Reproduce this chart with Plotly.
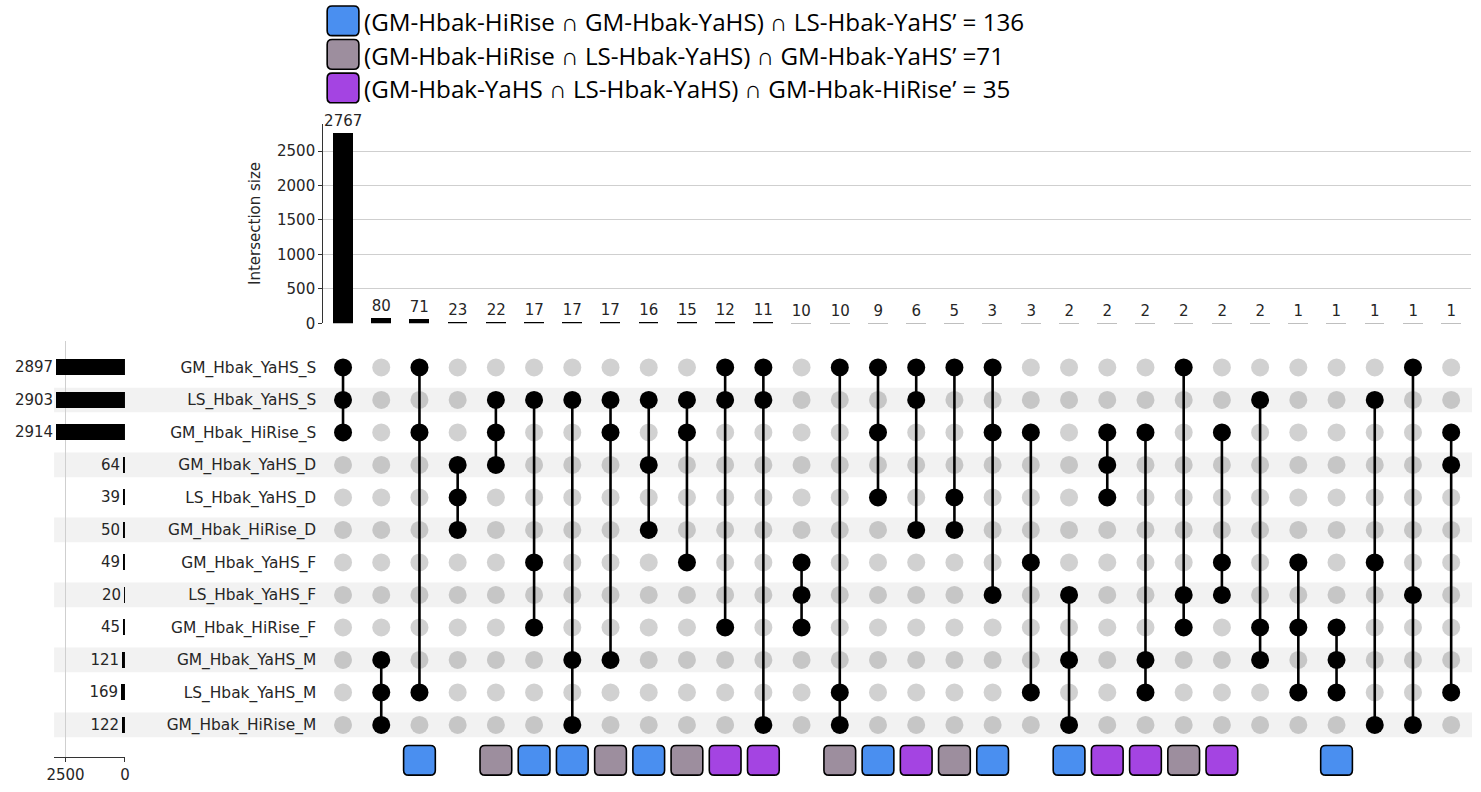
import plotly.graph_objects as go

# ---------------- data ----------------
set_names = ["GM_Hbak_YaHS_S", "LS_Hbak_YaHS_S", "GM_Hbak_HiRise_S",
             "GM_Hbak_YaHS_D", "LS_Hbak_YaHS_D", "GM_Hbak_HiRise_D",
             "GM_Hbak_YaHS_F", "LS_Hbak_YaHS_F", "GM_Hbak_HiRise_F",
             "GM_Hbak_YaHS_M", "LS_Hbak_YaHS_M", "GM_Hbak_HiRise_M"]
set_sizes = [2897, 2903, 2914, 64, 39, 50, 49, 20, 45, 121, 169, 122]

intersection_sizes = [2767, 80, 71, 23, 22, 17, 17, 17, 16, 15, 12, 11, 10, 10, 9,
                      6, 5, 3, 3, 2, 2, 2, 2, 2, 2, 1, 1, 1, 1, 1]
intersection_members = [
    ["GM_Hbak_YaHS_S", "LS_Hbak_YaHS_S", "GM_Hbak_HiRise_S"],
    ["GM_Hbak_YaHS_M", "LS_Hbak_YaHS_M", "GM_Hbak_HiRise_M"],
    ["GM_Hbak_YaHS_S", "GM_Hbak_HiRise_S", "LS_Hbak_YaHS_M"],
    ["GM_Hbak_YaHS_D", "LS_Hbak_YaHS_D", "GM_Hbak_HiRise_D"],
    ["LS_Hbak_YaHS_S", "GM_Hbak_HiRise_S", "GM_Hbak_YaHS_D"],
    ["LS_Hbak_YaHS_S", "GM_Hbak_YaHS_F", "GM_Hbak_HiRise_F"],
    ["LS_Hbak_YaHS_S", "GM_Hbak_YaHS_M", "GM_Hbak_HiRise_M"],
    ["LS_Hbak_YaHS_S", "GM_Hbak_HiRise_S", "GM_Hbak_YaHS_M"],
    ["LS_Hbak_YaHS_S", "GM_Hbak_YaHS_D", "GM_Hbak_HiRise_D"],
    ["LS_Hbak_YaHS_S", "GM_Hbak_HiRise_S", "GM_Hbak_YaHS_F"],
    ["GM_Hbak_YaHS_S", "LS_Hbak_YaHS_S", "GM_Hbak_HiRise_F"],
    ["GM_Hbak_YaHS_S", "LS_Hbak_YaHS_S", "GM_Hbak_HiRise_M"],
    ["GM_Hbak_YaHS_F", "LS_Hbak_YaHS_F", "GM_Hbak_HiRise_F"],
    ["GM_Hbak_YaHS_S", "LS_Hbak_YaHS_M", "GM_Hbak_HiRise_M"],
    ["GM_Hbak_YaHS_S", "GM_Hbak_HiRise_S", "LS_Hbak_YaHS_D"],
    ["GM_Hbak_YaHS_S", "LS_Hbak_YaHS_S", "GM_Hbak_HiRise_D"],
    ["GM_Hbak_YaHS_S", "LS_Hbak_YaHS_D", "GM_Hbak_HiRise_D"],
    ["GM_Hbak_YaHS_S", "GM_Hbak_HiRise_S", "LS_Hbak_YaHS_F"],
    ["GM_Hbak_HiRise_S", "GM_Hbak_YaHS_F", "LS_Hbak_YaHS_M"],
    ["LS_Hbak_YaHS_F", "GM_Hbak_YaHS_M", "GM_Hbak_HiRise_M"],
    ["GM_Hbak_HiRise_S", "GM_Hbak_YaHS_D", "LS_Hbak_YaHS_D"],
    ["GM_Hbak_HiRise_S", "GM_Hbak_YaHS_M", "LS_Hbak_YaHS_M"],
    ["GM_Hbak_YaHS_S", "LS_Hbak_YaHS_F", "GM_Hbak_HiRise_F"],
    ["GM_Hbak_HiRise_S", "GM_Hbak_YaHS_F", "LS_Hbak_YaHS_F"],
    ["LS_Hbak_YaHS_S", "GM_Hbak_HiRise_F", "GM_Hbak_YaHS_M"],
    ["GM_Hbak_YaHS_F", "GM_Hbak_HiRise_F", "LS_Hbak_YaHS_M"],
    ["GM_Hbak_HiRise_F", "GM_Hbak_YaHS_M", "LS_Hbak_YaHS_M"],
    ["LS_Hbak_YaHS_S", "GM_Hbak_YaHS_F", "GM_Hbak_HiRise_M"],
    ["GM_Hbak_YaHS_S", "LS_Hbak_YaHS_F", "GM_Hbak_HiRise_M"],
    ["GM_Hbak_HiRise_S", "GM_Hbak_YaHS_D", "LS_Hbak_YaHS_M"],
]
# highlight category of each intersection column (None = not highlighted)
intersection_category = [None, None, "A", None, "B", "A", "A", "B", "A", "B",
                         "C", "C", None, "B", "A", "C", "B", "A", None, "A",
                         "C", "C", "B", "C", None, None, "A", None, None, None]

category_labels = {
    "A": "(GM-Hbak-HiRise ∩ GM-Hbak-YaHS) ∩ LS-Hbak-YaHS’ = 136",
    "B": "(GM-Hbak-HiRise ∩ LS-Hbak-YaHS) ∩ GM-Hbak-YaHS’ =71",
    "C": "(GM-Hbak-YaHS ∩ LS-Hbak-YaHS) ∩ GM-Hbak-HiRise’ = 35",
}

# ---------------- styles / layout geometry (pixels) ----------------
W, H = 1481, 792
COL0, COLW = 338.0, 38.55      # pixel of first column, column spacing
ROW0, ROWH = 371.7, 32.87      # pixel of first row, row spacing
cat_colors = {"A": "#4a8ff0", "B": "#9d8e9e", "C": "#a444e2"}
FONT = "DejaVu Sans"
TXT = "#262626"


def fx(px):
    return px / W


def fy(py):
    return 1 - py / H


def xrange_for(p0, p1):
    return [(p0 - COL0) / COLW, (p1 - COL0) / COLW]


def yrange_for(ptop, pbot):
    return [(pbot - ROW0) / ROWH, (ptop - ROW0) / ROWH]  # reversed


n_cols = len(intersection_sizes)
n_rows = len(set_names)
cols = list(range(n_cols))
rows = list(range(n_rows))
row_of = {s: i for i, s in enumerate(set_names)}

fig = go.Figure()

# intersection size bars
fig.add_trace(go.Bar(
    x=cols, y=intersection_sizes, xaxis="x", yaxis="y",
    marker=dict(color="black", line=dict(width=0)), width=0.52,
    text=[str(v) for v in intersection_sizes], textposition="outside",
    constraintext="none", textangle=0,
    textfont=dict(family=FONT, size=15, color=TXT), cliponaxis=False,
    showlegend=False, hoverinfo="skip"))

# set size bars
fig.add_trace(go.Bar(
    x=set_sizes, y=rows, orientation="h", xaxis="x3", yaxis="y3",
    marker=dict(color="black", line=dict(width=0)), width=0.487,
    text=[str(v) for v in set_sizes], textposition="outside",
    constraintext="none", textangle=0,
    textfont=dict(family=FONT, size=15, color=TXT), cliponaxis=False,
    showlegend=False, hoverinfo="skip"))

# matrix: inactive dots, connecting lines, active dots
ix, iy, ax_, ay_ = [], [], [], []
lx, ly = [], []
for c, members in enumerate(intersection_members):
    active = sorted(row_of[m] for m in members)
    for r in rows:
        if r in active:
            ax_.append(c)
            ay_.append(r)
        else:
            ix.append(c)
            iy.append(r)
    lx += [c, c, None]
    ly += [active[0], active[-1], None]

fig.add_trace(go.Scatter(x=ix, y=iy, mode="markers", xaxis="x2", yaxis="y2",
                         marker=dict(size=18, color="rgba(0,0,0,0.18)"),
                         showlegend=False, hoverinfo="skip"))
fig.add_trace(go.Scatter(x=lx, y=ly, mode="lines", xaxis="x2", yaxis="y2",
                         line=dict(color="black", width=2.6),
                         showlegend=False, hoverinfo="skip"))
fig.add_trace(go.Scatter(x=ax_, y=ay_, mode="markers", xaxis="x2", yaxis="y2",
                         marker=dict(size=18, color="black"),
                         showlegend=False, hoverinfo="skip"))

shapes = []
# alternating row shading
for r in rows:
    if r % 2 == 1:
        shapes.append(dict(type="rect", xref="paper", yref="y2",
                           x0=fx(46.5), x1=fx(1477), y0=r - 0.38, y1=r + 0.38,
                           fillcolor="#f2f2f2", line=dict(width=0), layer="below"))


def rounded_path(xc, yc, w, h, rx, ry):
    x0, x1 = xc - w / 2, xc + w / 2
    y0, y1 = yc - h / 2, yc + h / 2
    return (f"M {x0+rx},{y0} L {x1-rx},{y0} Q {x1},{y0} {x1},{y0+ry} "
            f"L {x1},{y1-ry} Q {x1},{y1} {x1-rx},{y1} L {x0+rx},{y1} "
            f"Q {x0},{y1} {x0},{y1-ry} L {x0},{y0+ry} Q {x0},{y0} {x0+rx},{y0} Z")


# highlighted squares under the matrix
sq_y = (769 - ROW0) / ROWH
for c, cat in enumerate(intersection_category):
    if cat is None:
        continue
    shapes.append(dict(type="path", xref="x2", yref="y2",
                       path=rounded_path(c, sq_y, 32 / COLW, 30 / ROWH, 5 / COLW, 5 / ROWH),
                       fillcolor=cat_colors[cat], line=dict(color="black", width=1.6),
                       layer="above"))

# top legend
annotations = []
for k, cat in enumerate(["A", "B", "C"]):
    cy = 21 + 34 * k
    shapes.append(dict(type="path", xref="paper", yref="paper",
                       path=rounded_path(fx(338), fy(cy), 32 / W, 30 / H, 5 / W, 5 / H),
                       fillcolor=cat_colors[cat], line=dict(color="black", width=1.6)))
    annotations.append(dict(x=fx(357), y=fy(cy + 1), xref="paper", yref="paper",
                            xanchor="left", yanchor="middle", showarrow=False,
                            text=category_labels[cat],
                            font=dict(family="Open Sans", size=24.2, color="black")))

axis_common = dict(tickfont=dict(family=FONT, size=15, color=TXT))

fig.update_layout(
    width=W, height=H, autosize=False,
    margin=dict(l=0, r=0, t=0, b=0),
    paper_bgcolor="white", plot_bgcolor="rgba(0,0,0,0)",
    showlegend=False, bargap=0,
    shapes=shapes, annotations=annotations,
    xaxis=dict(domain=[fx(318), fx(1476)], range=xrange_for(318, 1476),
               anchor="y", showticklabels=False, showgrid=False, zeroline=False,
               showline=False, ticks=""),
    yaxis=dict(domain=[fy(327), fy(125)], range=[0, 2900], anchor="x",
               tickvals=[0, 500, 1000, 1500, 2000, 2500],
               showgrid=True, gridcolor="#cfcfcf", gridwidth=1,
               zeroline=True, zerolinecolor="rgba(0,0,0,0)",
               showline=True, linecolor="#333333", linewidth=1,
               ticks="outside", ticklen=4, tickcolor="#333333",
               title=dict(text="Intersection size", standoff=12,
                          font=dict(family=FONT, size=15, color=TXT)),
               **axis_common),
    xaxis2=dict(domain=[fx(318), fx(1478)], range=xrange_for(318, 1478),
                anchor="y2", showticklabels=False, showgrid=False, zeroline=False,
                showline=False, ticks=""),
    yaxis2=dict(domain=[fy(792), fy(346)], range=yrange_for(346, 792), anchor="x2",
                tickvals=rows, ticktext=set_names, showgrid=False, zeroline=False,
                showline=False, ticks="", ticklabelstandoff=6,
                tickfont=dict(family=FONT, size=15.4, color=TXT)),
    xaxis3=dict(domain=[fx(46.5), fx(118)], range=[2979, 0], anchor="y3",
                tickvals=[2500, 0], showgrid=True, gridcolor="#cfcfcf",
                zeroline=True, zerolinecolor="rgba(0,0,0,0)",
                showline=True, linecolor="#333333", linewidth=1,
                ticks="outside", ticklen=4, tickcolor="#333333", **axis_common),
    yaxis3=dict(domain=[fy(766), fy(345)], range=yrange_for(345, 766), anchor="x3",
                showticklabels=False, showgrid=False, zeroline=False,
                showline=False, ticks=""),
)

fig.write_html("out.html")
